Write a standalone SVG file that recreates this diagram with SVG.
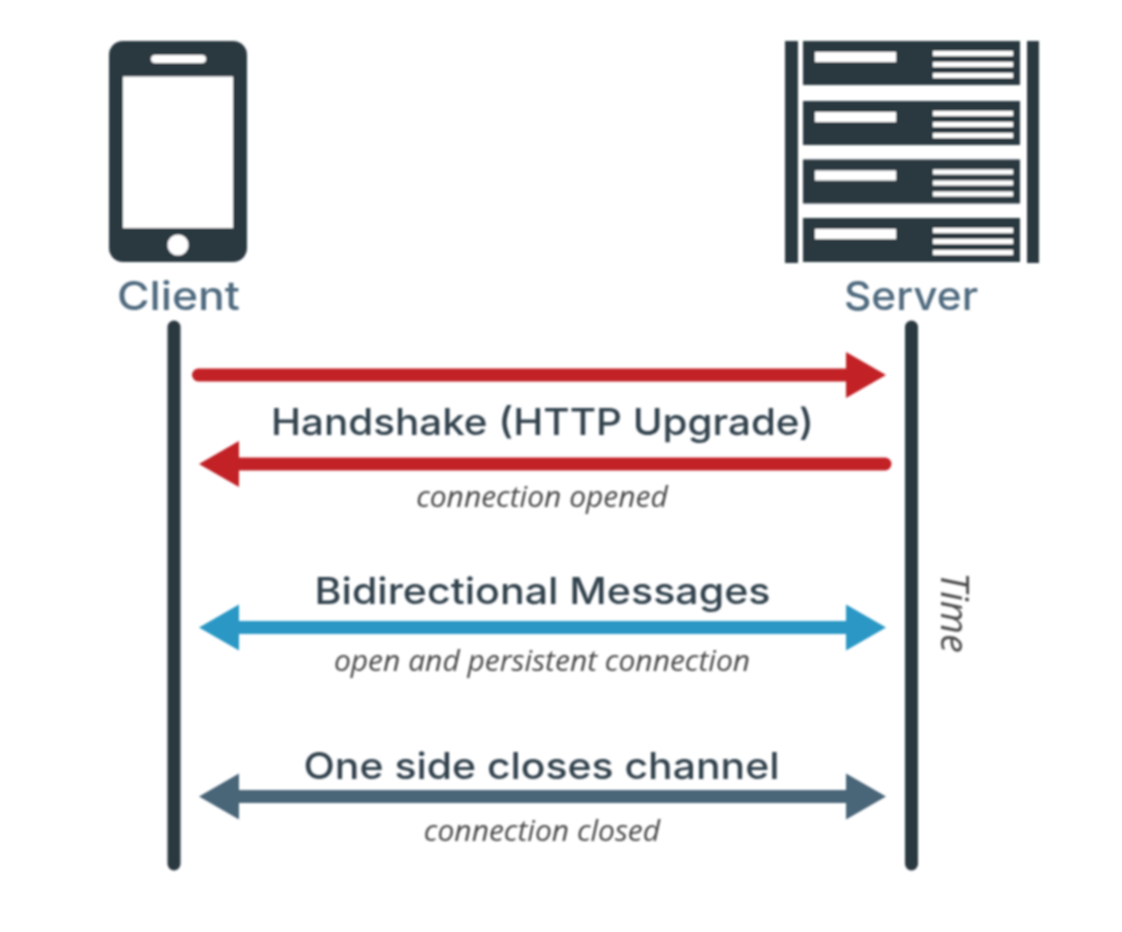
<svg xmlns="http://www.w3.org/2000/svg" width="1122" height="932" viewBox="0 0 1122 932">
<style>
.d{fill:#2a3741}.w{fill:#fff}
.life{stroke:#2a3741;stroke-width:13;stroke-linecap:round;fill:none}
.conn{stroke-width:13;stroke-linecap:round;fill:none}
.head-r{fill:#c22027}.head-b{fill:#2a97c5}.head-s{fill:#4a6578}
.t{font-family:Inter,"Noto Sans",sans-serif;font-size:37px;font-weight:500;fill:#33424e;text-anchor:middle}
.n{font-family:Inter,"Noto Sans",sans-serif;font-size:40px;font-weight:500;fill:#4f6b7f;text-anchor:middle}
.i{font-family:"Open Sans","Noto Sans",sans-serif;font-style:italic;font-size:30px;fill:#4a4a4a;text-anchor:middle}
.time{font-size:38px}
</style>
<defs>
<filter id="soft" filterUnits="userSpaceOnUse" x="0" y="0" width="1122" height="932"><feGaussianBlur stdDeviation="0.9"/></filter>
<g id="blade"><rect class="d" x="803" y="0" width="217" height="44"/><rect class="w" x="815" y="11" width="81" height="10"/><rect class="w" x="933" y="10" width="80" height="5"/><rect class="w" x="933" y="21" width="80" height="5"/><rect class="w" x="933" y="32" width="80" height="5"/></g>
</defs>
<rect width="1122" height="932" fill="#fff"/>
<g filter="url(#soft)">
<g id="client">
<rect class="d" x="109" y="41" width="138" height="221" rx="14"/>
<rect class="w" x="123" y="76.500" width="110" height="151.500"/>
<rect class="w" x="151" y="55" width="55" height="8" rx="4"/>
<circle class="w" cx="178" cy="245" r="10.500"/>
<text class="n" x="178.500" y="310" textLength="123" lengthAdjust="spacingAndGlyphs">Client</text>
</g>
<g id="server">
<rect class="d" x="785" y="41" width="13" height="222"/>
<rect class="d" x="1027" y="41" width="12" height="222"/>
<use href="#blade" y="41"/><use href="#blade" y="101"/><use href="#blade" y="159.500"/><use href="#blade" y="218"/>
<text class="n" x="911" y="310" textLength="134" lengthAdjust="spacingAndGlyphs">Server</text>
</g>
<g id="connectors">
<line class="life" x1="174" y1="327" x2="174" y2="864"/>
<line class="life" x1="911.500" y1="327" x2="911.500" y2="864"/>
<g id="handshake-request"><line class="conn" stroke="#c22027" x1="198.500" y1="375" x2="860" y2="375"/><polygon class="head-r" points="846,352 886,375 846,398"/></g>
<g id="handshake-response"><line class="conn" stroke="#c22027" x1="225" y1="464" x2="885" y2="464"/><polygon class="head-r" points="239,441 199,464 239,487"/></g>
<g id="bidirectional"><line class="conn" stroke="#2a97c5" x1="225" y1="627.500" x2="860" y2="627.500"/><polygon class="head-b" points="239,604.500 199,627.500 239,650.500"/><polygon class="head-b" points="846,604.500 886,627.500 846,650.500"/></g>
<g id="close"><line class="conn" stroke="#4a6578" x1="225" y1="796.500" x2="860" y2="796.500"/><polygon class="head-s" points="239,773.500 199,796.500 239,819.500"/><polygon class="head-s" points="846,773.500 886,796.500 846,819.500"/></g>
</g>
<g id="labels">
<text class="t" x="542.500" y="435" textLength="543" lengthAdjust="spacingAndGlyphs">Handshake (HTTP Upgrade)</text>
<text class="i" x="542" y="507">connection opened</text>
<text class="t" x="542.500" y="604" textLength="456" lengthAdjust="spacingAndGlyphs">Bidirectional Messages</text>
<text class="i" x="542" y="671">open and persistent connection</text>
<text class="t" x="541.500" y="779" textLength="476" lengthAdjust="spacingAndGlyphs">One side closes channel</text>
<text class="i" x="542" y="841">connection closed</text>
<text class="i time" transform="translate(941,612.500) rotate(90)">Time</text>
</g>
</g>
</svg>
